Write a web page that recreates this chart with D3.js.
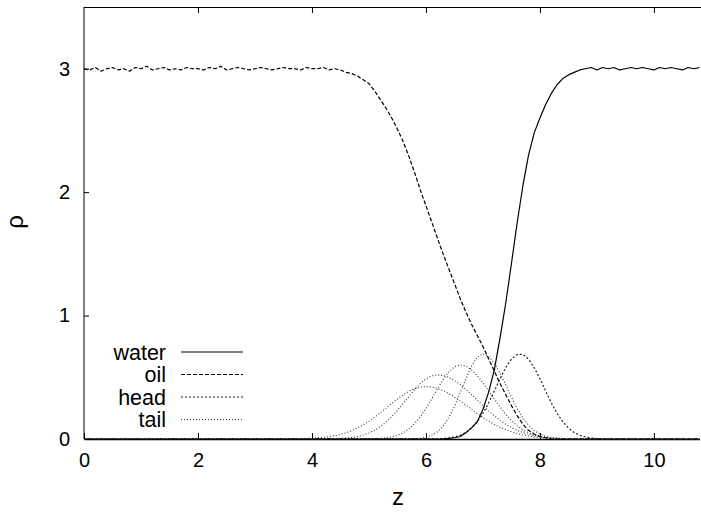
<!DOCTYPE html>
<html>
<head>
<meta charset="utf-8">
<script src="https://cdn.jsdelivr.net/npm/d3@7"></script>
<style>
  html, body { margin: 0; padding: 0; background: #fff; }
  svg { display: block; }
  text { font-family: "Liberation Sans", Arial, Helvetica, sans-serif; fill: #000; }
</style>
</head>
<body>
<svg id="chart" width="701" height="514"></svg>
<script>
// ---------------- data ----------------
const zStep = 0.1;
const xTicks = [0, 2, 4, 6, 8, 10];
const yTicks = [0, 1, 2, 3];
const seriesNames = ["water", "oil", "head", "tail"];

// water density, starting at z = 6.3 (zero before)
const waterZ0 = 6.3;
const waterRho = [0.00, 0.005, 0.01, 0.02, 0.05, 0.09, 0.14, 0.24, 0.38, 0.56,
  0.82, 1.10, 1.42, 1.75, 2.05, 2.30, 2.48, 2.60, 2.71, 2.80,
  2.87, 2.92, 2.95, 2.97, 2.99, 3.00, 3.01, 2.99, 3.01, 3.00,
  3.01, 2.99, 3.00, 3.01, 3.00, 3.01, 3.00, 2.99, 3.01, 3.00,
  3.01, 3.00, 2.99, 3.01, 3.00, 3.01];

// oil density, starting at z = 0 (zero after the last value)
const oilZ0 = 0.0;
const oilRho = [3.00, 2.99, 3.01, 2.98, 3.00, 3.01, 2.99, 3.00, 2.98, 3.01,
  3.00, 3.02, 2.99, 3.00, 3.01, 2.99, 3.00, 2.99, 3.01, 3.00,
  3.00, 2.99, 3.01, 3.00, 3.02, 2.99, 3.00, 3.01, 3.00, 2.99,
  3.00, 3.01, 3.00, 2.99, 3.00, 3.01, 3.00, 3.00, 2.99, 3.01,
  3.00, 3.00, 3.01, 2.99, 3.00, 2.99,
  2.97, 2.96, 2.94, 2.91, 2.88, 2.82, 2.75, 2.68, 2.60, 2.51,
  2.41, 2.29, 2.16, 2.02, 1.89, 1.76, 1.63, 1.50, 1.38, 1.26,
  1.14, 1.03, 0.93, 0.84, 0.75, 0.65, 0.55, 0.45, 0.36, 0.27,
  0.19, 0.12, 0.07, 0.04, 0.02, 0.01, 0.00];

// head bead density, starting at z = 6.1
const headZ0 = 6.1;
const headRho = [0.001, 0.002, 0.004, 0.008, 0.016, 0.030, 0.053, 0.089, 0.140, 0.208,
  0.293, 0.389, 0.488, 0.578, 0.647, 0.685, 0.685, 0.647, 0.578, 0.488,
  0.389, 0.293, 0.208, 0.140, 0.089, 0.053, 0.030, 0.016, 0.008, 0.004,
  0.002, 0.001];

// tail bead densities (four beads along the chain)
const tail1Z0 = 5.7;
const tail1Rho = [0.001, 0.003, 0.006, 0.015, 0.030, 0.058, 0.104, 0.172, 0.263, 0.372,
  0.488, 0.591, 0.664, 0.690, 0.671, 0.616, 0.535, 0.438, 0.340, 0.249,
  0.172, 0.112, 0.069, 0.041, 0.022, 0.012, 0.006, 0.003, 0.001];

const tail2Z0 = 5.0;
const tail2Rho = [0.001, 0.002, 0.005, 0.009, 0.017, 0.030, 0.051, 0.081, 0.124, 0.179,
  0.247, 0.324, 0.404, 0.480, 0.543, 0.585, 0.600, 0.590, 0.560, 0.514,
  0.456, 0.391, 0.324, 0.259, 0.200, 0.150, 0.108, 0.075, 0.051, 0.033,
  0.021, 0.013, 0.007, 0.004, 0.002, 0.001];

const tail3Z0 = 4.3;
const tail3Rho = [0.001, 0.002, 0.004, 0.008, 0.013, 0.020, 0.032, 0.048, 0.070, 0.100,
  0.136, 0.181, 0.231, 0.287, 0.344, 0.399, 0.448, 0.487, 0.511, 0.520,
  0.515, 0.499, 0.474, 0.442, 0.403, 0.360, 0.315, 0.271, 0.227, 0.187,
  0.151, 0.120, 0.093, 0.070, 0.052, 0.038, 0.027, 0.019, 0.013, 0.009,
  0.006, 0.004, 0.002, 0.001];

const tail4Z0 = 3.7;
const tail4Rho = [0.001, 0.002, 0.004, 0.006, 0.009, 0.013, 0.019, 0.027, 0.037, 0.051,
  0.068, 0.090, 0.115, 0.144, 0.177, 0.213, 0.250, 0.288, 0.324, 0.358,
  0.386, 0.407, 0.420, 0.425, 0.421, 0.410, 0.392, 0.369, 0.340, 0.309,
  0.275, 0.241, 0.207, 0.175, 0.145, 0.118, 0.095, 0.075, 0.058, 0.044,
  0.033, 0.024, 0.017, 0.012, 0.008, 0.006, 0.004, 0.003, 0.002, 0.001];

// ---------------- chart ----------------
const svg = d3.select("#chart");
const x = d3.scaleLinear().domain([0, 10.8]).range([84, 699.5]);
const y = d3.scaleLinear().domain([0, 3.5]).range([439, 7]);
const [x0, x1] = x.domain();

function toPoints(z0, vals) {
  const pts = vals.map((v, i) => [+(z0 + i * zStep).toFixed(2), v]);
  if (pts[0][1] < 0.01) pts.unshift([x0, 0]);
  const last = pts[pts.length - 1];
  if (last[1] < 0.01 && last[0] < x1) pts.push([x1, 0]);
  return pts;
}

const line = d3.line().x(d => x(d[0])).y(d => y(d[1]));

svg.append("defs").append("clipPath").attr("id", "clip")
  .append("rect").attr("x", 84).attr("y", 7).attr("width", 617).attr("height", 433);

const styles = {
  water: { dash: null, color: "#000", width: 1.2 },
  oil:   { dash: "4,2", color: "#000", width: 1.2 },
  head:  { dash: "2,2", color: "#222", width: 1.2 },
  tail:  { dash: "1,2", color: "#333", width: 1.1 }
};

const series = [
  { key: "tail", pts: toPoints(tail4Z0, tail4Rho) },
  { key: "tail", pts: toPoints(tail3Z0, tail3Rho) },
  { key: "tail", pts: toPoints(tail2Z0, tail2Rho) },
  { key: "tail", pts: toPoints(tail1Z0, tail1Rho) },
  { key: "head", pts: toPoints(headZ0, headRho) },
  { key: "oil", pts: toPoints(oilZ0, oilRho) },
  { key: "water", pts: toPoints(waterZ0, waterRho) }
];

// axes frame
const frame = svg.append("g");
frame.append("line").attr("x1", 84).attr("x2", 84).attr("y1", 7).attr("y2", 439)
  .attr("stroke", "#000").attr("stroke-width", 1);
frame.append("line").attr("x1", 84).attr("x2", 701).attr("y1", 7.5).attr("y2", 7.5)
  .attr("stroke", "#000").attr("stroke-width", 1);

// bottom axis (ticks inward) and mirrored ticks on top
const xAxis = d3.axisBottom(x).tickValues(xTicks).tickSizeInner(-6).tickSizeOuter(0).tickPadding(14)
  .tickFormat(d3.format("d"));
const gx = svg.append("g").attr("transform", "translate(0,439)").call(xAxis);
gx.select(".domain").attr("stroke", "#000").attr("stroke-width", 1.5);
gx.selectAll(".tick line").attr("stroke", "#000");
gx.selectAll(".tick text").style("font-size", "20px").attr("dy", "0.68em");

const xTop = d3.axisTop(x).tickValues(xTicks.filter(d => d > 0)).tickSizeInner(-6).tickSizeOuter(0).tickFormat("");
const gxt = svg.append("g").attr("transform", "translate(0,7)").call(xTop);
gxt.select(".domain").remove();
gxt.selectAll(".tick line").attr("stroke", "#000");

const yAxis = d3.axisLeft(y).tickValues(yTicks).tickSizeInner(-5).tickSizeOuter(0).tickPadding(14)
  .tickFormat(d3.format("d"));
const gy = svg.append("g").attr("transform", "translate(84,0)").call(yAxis);
gy.select(".domain").remove();
gy.selectAll(".tick line").attr("stroke", "#000");
gy.selectAll(".tick text").style("font-size", "20px");

// curves
const plot = svg.append("g").attr("clip-path", "url(#clip)");
series.forEach(s => {
  const st = styles[s.key];
  plot.append("path").datum(s.pts)
    .attr("d", line)
    .attr("fill", "none")
    .attr("stroke", st.color)
    .attr("stroke-width", st.width)
    .attr("stroke-dasharray", st.dash)
    .attr("stroke-linejoin", "round");
});

// axis labels
svg.append("text").attr("x", 398).attr("y", 505).attr("text-anchor", "middle")
  .style("font-size", "24px").text("z");
svg.append("text").attr("transform", "translate(23,222) rotate(-90)").attr("text-anchor", "middle")
  .style("font-size", "24px").text("ρ");

// legend
const legend = svg.append("g");
seriesNames.forEach((name, i) => {
  const cy = 352 + i * 22.5;
  const st = styles[name];
  legend.append("text").attr("x", 166).attr("y", cy).attr("dy", "0.35em")
    .attr("text-anchor", "end").style("font-size", "21.5px").text(name);
  legend.append("line").attr("x1", 181).attr("x2", 243).attr("y1", cy).attr("y2", cy)
    .attr("stroke", st.color).attr("stroke-width", st.width)
    .attr("stroke-dasharray", st.dash);
});
</script>
</body>
</html>
